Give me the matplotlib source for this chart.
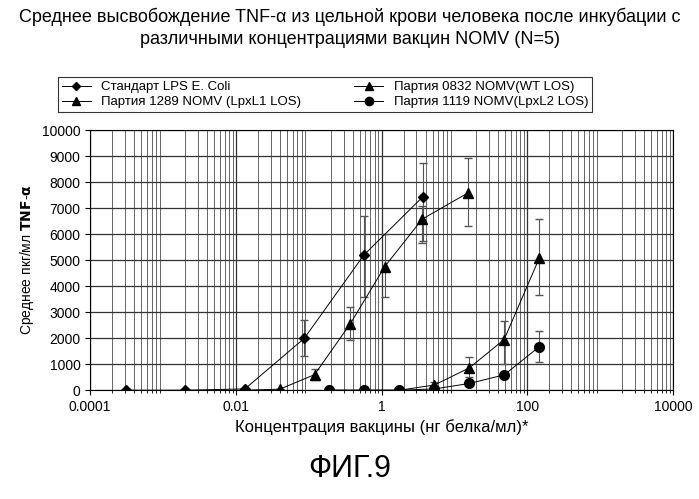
import matplotlib
matplotlib.use("Agg")
import matplotlib.pyplot as plt
from matplotlib.lines import Line2D

plt.rcParams["font.family"] = "Liberation Sans"

# LPS E. Coli standard
lps_x = [0.00031, 0.0020, 0.0133, 0.087, 0.57, 3.7]
lps_y = [0, 0, 50, 2000, 5200, 7450]
lps_lo = [0, 0, 0, 700, 1600, 1700]
lps_hi = [0, 0, 0, 700, 1500, 1300]

# Partiya 1289 NOMV (LpxL1 LOS)
l1_x = [0.0128, 0.040, 0.12, 0.37, 1.1, 3.6, 15.5]
l1_y = [0, 40, 600, 2550, 4750, 6580, 7600]
l1_lo = [0, 0, 200, 600, 1150, 900, 1300]
l1_hi = [0, 0, 200, 650, 1250, 500, 1350]

# Partiya 0832 NOMV (WT LOS)
wt_x = [0.19, 0.57, 1.75, 5.3, 16.0, 48, 145]
wt_y = [0, 0, 0, 200, 860, 1950, 5070]
wt_lo = [0, 0, 0, 100, 350, 950, 1400]
wt_hi = [0, 0, 0, 100, 400, 700, 1500]

# Partiya 1119 NOMV (LpxL2 LOS)
l2_x = [0.19, 0.57, 1.75, 5.3, 16.0, 48, 145]
l2_y = [0, 0, 0, 50, 260, 590, 1670]
l2_lo = [0, 0, 0, 0, 0, 0, 600]
l2_hi = [0, 0, 0, 0, 0, 0, 600]

fig = plt.figure(figsize=(6.99, 4.99), dpi=100)
ax = fig.add_axes([0.129, 0.218, 0.834, 0.521])

kw = dict(color="black", lw=0.7, ecolor="#555555", elinewidth=0.8, capsize=3)
series = [
    (lps_x, lps_y, lps_lo, lps_hi, "D", 5, "Стандарт LPS E. Coli"),
    (l1_x, l1_y, l1_lo, l1_hi, "^", 7, "Партия 1289 NOMV (LpxL1 LOS)"),
    (wt_x, wt_y, wt_lo, wt_hi, "^", 7, "Партия 0832 NOMV(WT LOS)"),
    (l2_x, l2_y, l2_lo, l2_hi, "o", 7, "Партия 1119 NOMV(LpxL2 LOS)"),
]
handles = []
for x, y, lo, hi, m, ms, lab in series:
    ax.errorbar(x, y, yerr=[lo, hi], marker=m, ms=ms, **kw)
    handles.append(Line2D([], [], color="black", lw=0.7, marker=m, ms=ms - 1, label=lab))

ax.set_xscale("log")
ax.set_xlim(0.0001, 10000)
ax.set_ylim(0, 10000)
ax.set_yticks(range(0, 10001, 1000))
ax.set_xticks([0.0001, 0.01, 1, 100, 10000])
ax.set_xticklabels(["0.0001", "0.01", "1", "100", "10000"])
ax.grid(True, which="major", color="#333333", lw=0.9)
ax.grid(True, which="minor", axis="x", color="#666666", lw=0.7)
ax.tick_params(labelsize=10)
for s in ax.spines.values():
    s.set_linewidth(0.8)

ax.set_xlabel("Концентрация вакцины (нг белка/мл)*", fontsize=12)
ax.set_ylabel("Среднее пкг/мл $\\bf{TNF}$-$\\bf{α}$", fontsize=10)

fig.text(0.5, 0.955, "Среднее высвобождение TNF-α из цельной крови человека после инкубации с",
         ha="center", fontsize=13)
fig.text(0.5, 0.912, "различными концентрациями вакцин NOMV (N=5)",
         ha="center", fontsize=13)

leg = fig.legend(handles=handles, ncol=2, loc="center", bbox_to_anchor=(0.465, 0.81),
                 fontsize=9.5, frameon=True, fancybox=False, edgecolor="black",
                 handlelength=2.2, columnspacing=4, borderpad=0.3, labelspacing=0.2)
leg.get_frame().set_linewidth(0.8)

fig.text(0.5, 0.045, "ФИГ.9", ha="center", fontsize=22)

fig.savefig("out.png", dpi=100)
